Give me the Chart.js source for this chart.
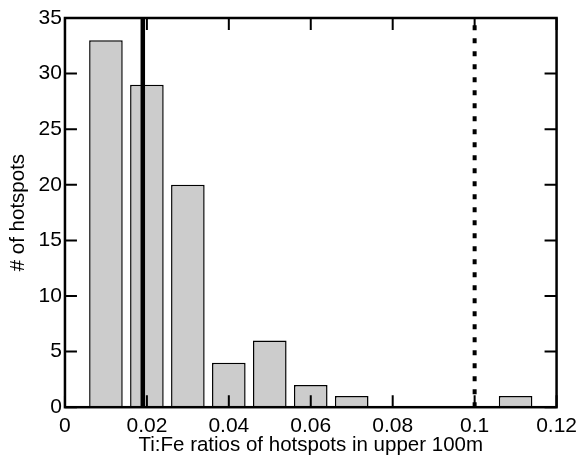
<!DOCTYPE html>
<html>
<head>
<meta charset="utf-8">
<script src="https://cdn.jsdelivr.net/npm/chart.js@4"></script>
<style>
  body { margin: 0; background: #fff; }
</style>
</head>
<body>
<canvas id="histChart" width="583" height="457"></canvas>
<script>
// bin centres and counts
const binCentres = [0.01, 0.02, 0.03, 0.04, 0.05, 0.06, 0.07, 0.08, 0.09, 0.10, 0.11]
const binCounts = [33, 29, 20, 4, 6, 2, 1, 0, 0, 0, 1]

// reference lines
const solidLineX = 0.019
const dashedLineX = 0.1

const xTicks = [0, 0.02, 0.04, 0.06, 0.08, 0.1, 0.12]
const yTicks = [0, 5, 10, 15, 20, 25, 30, 35]

const FONT = "'Liberation Sans', Arial, sans-serif"

// inward ticks on all four sides + box, matlab style
const boxTicks = {
  id: "boxTicks",
  afterDraw(chart) {
    const ctx = chart.ctx
    const a = chart.chartArea
    const xs = chart.scales.x
    const ys = chart.scales.y
    const len = 12
    ctx.save()
    ctx.strokeStyle = "#000"
    ctx.lineWidth = 2
    ctx.beginPath()
    xTicks.forEach(v => {
      const px = xs.getPixelForValue(v)
      ctx.moveTo(px, a.bottom); ctx.lineTo(px, a.bottom - len)
      ctx.moveTo(px, a.top); ctx.lineTo(px, a.top + len)
    })
    yTicks.forEach(v => {
      const py = ys.getPixelForValue(v)
      ctx.moveTo(a.left, py); ctx.lineTo(a.left + len, py)
      ctx.moveTo(a.right, py); ctx.lineTo(a.right - len, py)
    })
    ctx.stroke()
    ctx.lineWidth = 2.5
    ctx.strokeRect(a.left, a.top, a.right - a.left, a.bottom - a.top)
    ctx.restore()
  }
}

new Chart(document.getElementById("histChart"), {
  data: {
    datasets: [
      {
        type: "bar",
        data: binCentres.map((x, i) => ({ x: x, y: binCounts[i] })),
        backgroundColor: "#cccccc",
        borderColor: "#000",
        borderWidth: 1.5,
        categoryPercentage: 1,
        barPercentage: 0.82,
        order: 2
      },
      {
        type: "line",
        data: [{ x: solidLineX, y: 0 }, { x: solidLineX, y: 35 }],
        borderColor: "#000",
        borderWidth: 4.5,
        pointRadius: 0,
        order: 1
      },
      {
        type: "line",
        data: [{ x: dashedLineX, y: 0 }, { x: dashedLineX, y: 35 }],
        borderColor: "#000",
        borderWidth: 4,
        borderDash: [5, 8],
        pointRadius: 0,
        order: 1
      }
    ]
  },
  options: {
    responsive: false,
    animation: false,
    layout: { padding: { top: 18, right: 23, left: 6, bottom: -1 } },
    plugins: {
      legend: { display: false },
      tooltip: { enabled: false }
    },
    scales: {
      x: {
        type: "linear",
        offset: false,
        min: 0,
        max: 0.12,
        afterBuildTicks: s => { s.ticks = xTicks.map(v => ({ value: v })) },
        grid: { display: false, drawTicks: false, offset: false },
        border: { display: false },
        ticks: {
          color: "#000",
          font: { family: FONT, size: 21 },
          padding: 6,
          maxRotation: 0,
          callback: v => String(+Number(v).toFixed(2))
        },
        title: {
          display: true,
          text: "Ti:Fe ratios of hotspots in upper 100m",
          color: "#000",
          font: { family: FONT, size: 20.5 },
          padding: { top: -11, bottom: 0 }
        }
      },
      y: {
        min: 0,
        max: 35,
        afterBuildTicks: s => { s.ticks = yTicks.map(v => ({ value: v })) },
        grid: { display: false, drawTicks: false },
        border: { display: false },
        ticks: {
          color: "#000",
          font: { family: FONT, size: 21 },
          padding: 3
        },
        title: {
          display: true,
          text: "# of hotspots",
          color: "#000",
          font: { family: FONT, size: 20.5 },
          padding: { top: 0, bottom: 5 }
        }
      }
    }
  },
  plugins: [boxTicks]
})
</script>
</body>
</html>
